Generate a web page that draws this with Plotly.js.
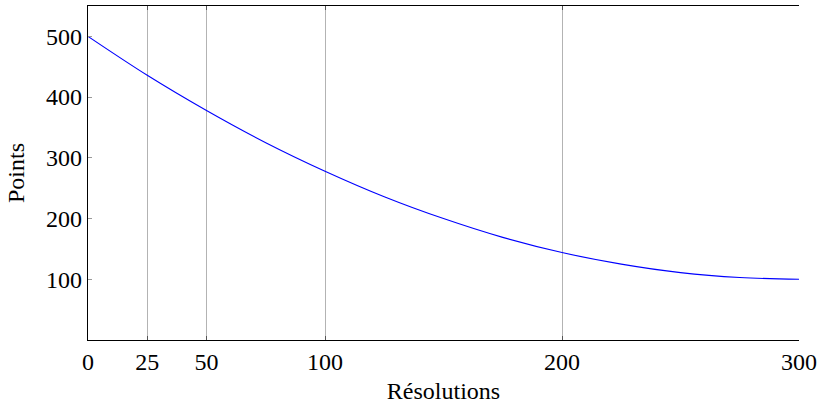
<!DOCTYPE html>
<html>
<head>
<meta charset="utf-8">
<script src="https://cdn.plot.ly/plotly-3.0.1.min.js"></script>
<style>html,body{margin:0;padding:0;background:#fff;}</style>
</head>
<body>
<div id="chart" style="width:819px;height:404px;"></div>
<script>
const resolutions = [0, 25, 50, 75, 100, 125, 150, 175, 200, 225, 250, 275, 300];
const points = [500, 436, 378, 325, 278, 236, 200, 169, 144, 125, 111, 103, 100];
const xTicks = [0, 25, 50, 100, 200, 300];
const yTicks = [100, 200, 300, 400, 500];

const font = {family: '"Liberation Serif", "Times New Roman", serif', size: 24, color: '#000'};

Plotly.newPlot('chart', [{
  x: resolutions, y: points, type: 'scatter', mode: 'lines',
  line: {color: '#0000ff', width: 1.1, shape: 'spline', smoothing: 1},
  hoverinfo: 'skip'
}], {
  width: 819, height: 404,
  margin: {l: 88, r: 20, t: 6, b: 64},
  paper_bgcolor: '#fff', plot_bgcolor: '#fff',
  showlegend: false,
  font: font,
  xaxis: {
    range: [0, 300], tickvals: xTicks, ticktext: xTicks.map(String),
    showgrid: true, gridcolor: '#b3b3b3', gridwidth: 1,
    zeroline: false, showline: true, linecolor: '#000', linewidth: 1.3, mirror: 'ticks',
    ticks: 'inside', ticklen: 4, tickcolor: '#555', tickwidth: 1,
    tickfont: font,
    title: {text: 'Résolutions', font: font, standoff: 8}
  },
  yaxis: {
    range: [0, 550], tickvals: yTicks, ticktext: yTicks.map(String),
    showgrid: false, zeroline: false, showline: true, linecolor: '#000', linewidth: 1.3,
    ticks: 'inside', ticklen: 4, tickcolor: '#999', tickwidth: 1,
    tickfont: font,
    title: {text: 'Points', font: font, standoff: 14}
  }
}, {staticPlot: true});
</script>
</body>
</html>
